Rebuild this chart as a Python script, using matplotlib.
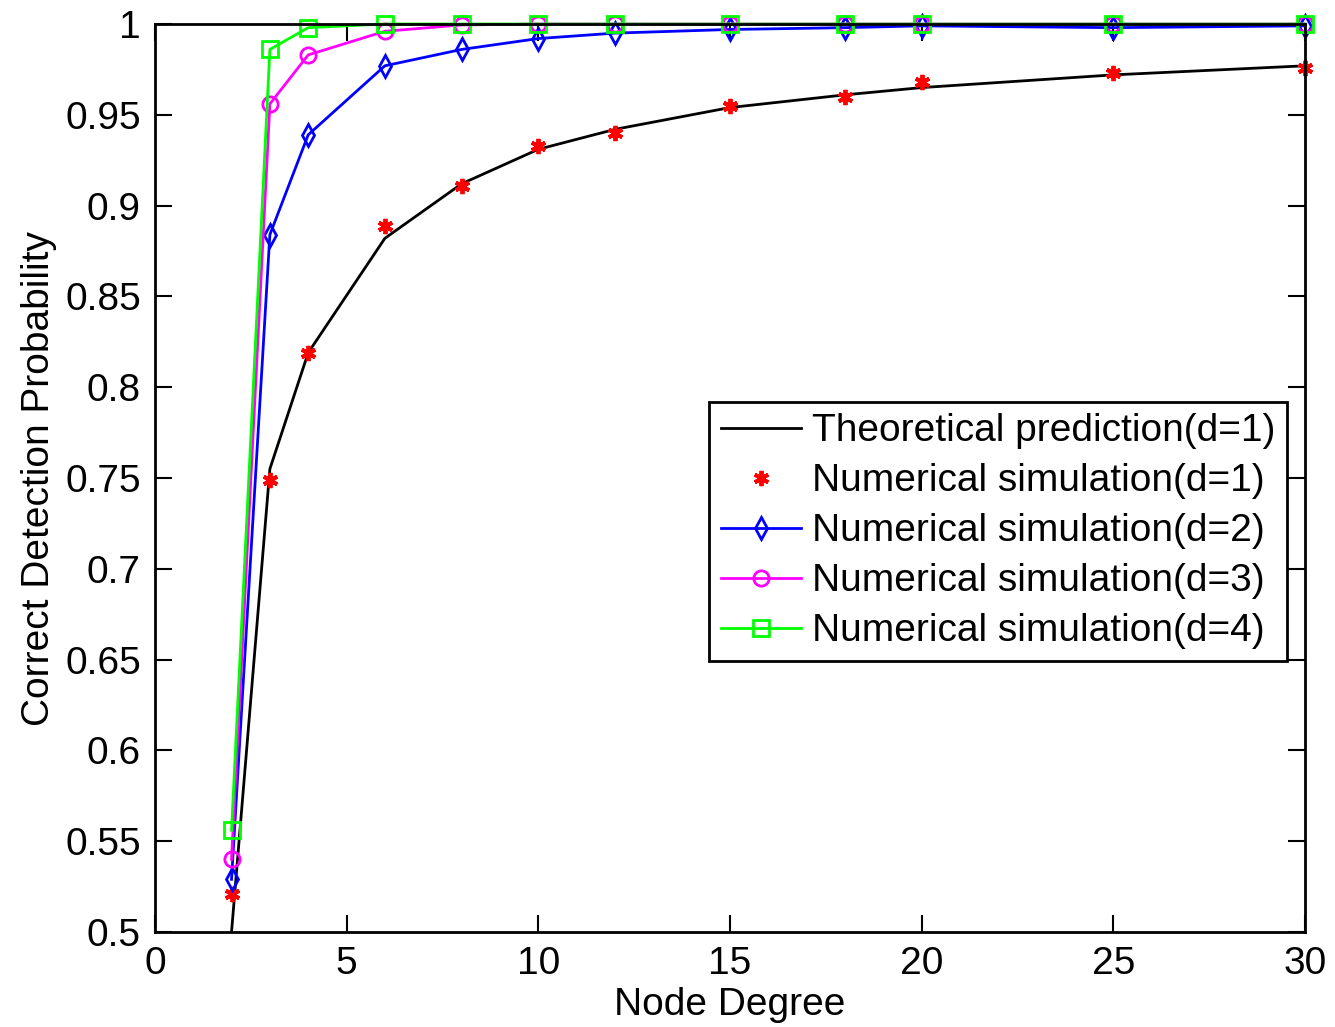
import matplotlib
matplotlib.use("Agg")
import matplotlib.pyplot as plt

x = [2, 3, 4, 6, 8, 10, 12, 15, 18, 20, 25, 30]
theory_d1 = [0.500, 0.755, 0.819, 0.882, 0.912, 0.931, 0.942, 0.954, 0.961, 0.965, 0.972, 0.977]
sim_d1 = [0.521, 0.749, 0.819, 0.889, 0.911, 0.933, 0.940, 0.955, 0.960, 0.968, 0.973, 0.976]
sim_d2 = [0.529, 0.884, 0.939, 0.977, 0.986, 0.992, 0.995, 0.997, 0.998, 0.999, 0.998, 0.999]
sim_d3 = [0.540, 0.956, 0.983, 0.996, 0.9995, 1.0, 1.0, 1.0, 1.0, 1.0, 1.0, 1.0]
sim_d4 = [0.556, 0.986, 0.998, 1.0, 1.0, 1.0, 1.0, 1.0, 1.0, 1.0, 1.0, 1.0]

plt.rcParams['font.family'] = ['Liberation Sans', 'DejaVu Sans']
FS = 28

fig = plt.figure(figsize=(13.35, 10.27), dpi=100)
ax = fig.add_axes([0.116, 0.0925, 0.8615, 0.8841])

ax.plot(x, theory_d1, color='black', lw=2, label='Theoretical prediction(d=1)')
ax.plot(x, sim_d1, linestyle='none', marker=(6, 2, 0), color='red', ms=11, mew=2.8,
        label='Numerical simulation(d=1)', clip_on=False)
ax.plot(x, sim_d2, color='blue', lw=2, marker='d', ms=11, mfc='none', mew=2,
        label='Numerical simulation(d=2)', clip_on=False)
ax.plot(x, sim_d3, color='magenta', lw=2, marker='o', ms=11, mfc='none', mew=2,
        label='Numerical simulation(d=3)', clip_on=False)
ax.plot(x, sim_d4, color='#00ff00', lw=2, marker='s', ms=11, mfc='none', mew=2,
        label='Numerical simulation(d=4)', clip_on=False)

ax.set_xlim(0, 30)
ax.set_ylim(0.5, 1.0)
ax.set_xticks([0, 5, 10, 15, 20, 25, 30])
ax.set_yticks([0.5, 0.55, 0.6, 0.65, 0.7, 0.75, 0.8, 0.85, 0.9, 0.95, 1.0])
ax.set_yticklabels(['0.5', '0.55', '0.6', '0.65', '0.7', '0.75', '0.8', '0.85', '0.9', '0.95', '1'])
ax.tick_params(direction='in', top=True, right=True, length=12, width=1.5, labelsize=FS, pad=10)
for s in ax.spines.values():
    s.set_linewidth(2)

ax.set_xlabel('Node Degree', fontsize=FS, labelpad=4)
ax.set_ylabel('Correct Detection Probability', fontsize=FS, labelpad=6)

leg = ax.legend(loc='upper left', bbox_to_anchor=(0.482, 0.584), fontsize=FS, frameon=True,
                fancybox=False, edgecolor='black', framealpha=1, borderpad=0.3,
                handlelength=2.05, handletextpad=0.3, labelspacing=0.36, borderaxespad=0)
leg.get_frame().set_linewidth(2)

fig.savefig('out.png', dpi=100)
